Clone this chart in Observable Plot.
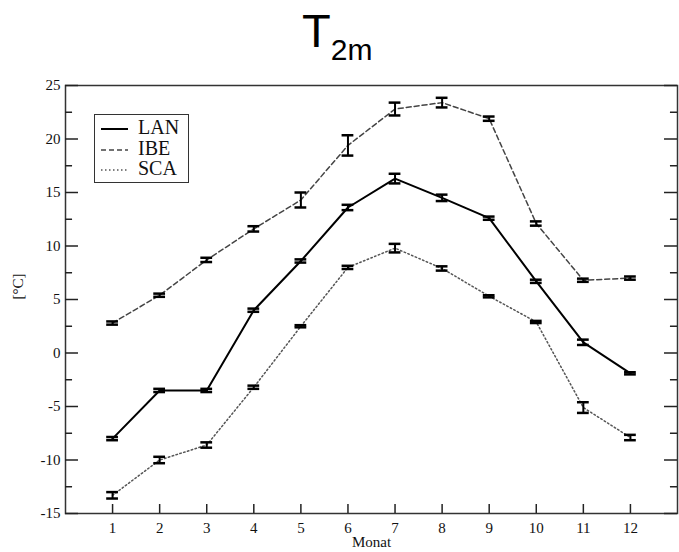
<!DOCTYPE html>
<html>
<head>
<meta charset="utf-8">
<script src="https://cdn.jsdelivr.net/npm/d3@7"></script>
<script src="https://cdn.jsdelivr.net/npm/@observablehq/plot@0.6"></script>
<style>
  body { margin: 0; background: #fff; }
  #wrap { position: relative; width: 679px; height: 552px; }
  #legend { position: absolute; left: 94px; top: 114px; width: 93px; height: 67px;
    border: 1.5px solid #333; background: #fff; font-family: "Liberation Serif", "DejaVu Serif", serif; font-size: 20px; }
  #legend .row { position: absolute; left: 0; height: 20px; width: 93px; }
  #legend svg { position: absolute; left: 5px; top: 0; }
  #legend span { position: absolute; left: 43px; top: -2px; line-height: 20px; color: #111; }
</style>
</head>
<body>
<div id="wrap">
  <svg id="title" width="679" height="70" style="position:absolute;left:0;top:0">
    <text x="302" y="47" font-family="Liberation Sans, Arial, sans-serif" font-size="47" fill="#000">T<tspan font-size="30" dy="13">2m</tspan></text>
  </svg>
  <div id="chart" style="position:absolute;left:0;top:70px"></div>
  <div id="legend"></div>
</div>
<script>
const months = [1, 2, 3, 4, 5, 6, 7, 8, 9, 10, 11, 12];
const lan    = [-8.0, -3.5, -3.5, 4.0, 8.6, 13.6, 16.3, 14.5, 12.6, 6.7, 1.0, -1.9];
const lanErr = [0.15, 0.15, 0.15, 0.15, 0.15, 0.25, 0.45, 0.3, 0.15, 0.15, 0.25, 0.1];
const ibe    = [2.8, 5.4, 8.7, 11.6, 14.3, 19.4, 22.8, 23.4, 21.9, 12.1, 6.8, 7.0];
const ibeErr = [0.15, 0.15, 0.2, 0.25, 0.7, 0.95, 0.6, 0.45, 0.2, 0.2, 0.15, 0.15];
const sca    = [-13.3, -10.0, -8.6, -3.2, 2.5, 8.0, 9.8, 7.9, 5.3, 2.9, -5.1, -7.9];
const scaErr = [0.3, 0.3, 0.25, 0.15, 0.1, 0.15, 0.4, 0.2, 0.1, 0.1, 0.5, 0.25];
const seriesNames = ["LAN", "IBE", "SCA"];
const yMajor = [-15, -10, -5, 0, 5, 10, 15, 20, 25];
const yMinor = [-12.5, -7.5, -2.5, 2.5, 7.5, 12.5, 17.5, 22.5];
const xLabel = "Monat";
const yLabel = "[°C]";

const styles = {
  LAN: {stroke: "#000", strokeWidth: 2, strokeDasharray: null},
  IBE: {stroke: "#444", strokeWidth: 1.5, strokeDasharray: "5,3"},
  SCA: {stroke: "#555", strokeWidth: 1.5, strokeDasharray: "1.5,2.5"}
};
const vals = {LAN: lan, IBE: ibe, SCA: sca};
const errs = {LAN: lanErr, IBE: ibeErr, SCA: scaErr};
const data = seriesNames.flatMap(s => months.map((m, i) => ({series: s, month: m, v: vals[s][i], e: errs[s][i]})));

const serif = "Liberation Serif, DejaVu Serif, serif";
const majLen = 0.276, minLen = 0.15, capHalf = 0.125;
const xMin = 0, xMax = 13;

const marks = [
  Plot.frame({stroke: "#333", strokeWidth: 1.5}),
  Plot.ruleY(yMajor, {y: d => d, x1: xMin, x2: xMin + majLen, stroke: "#222", strokeWidth: 1.5}),
  Plot.ruleY(yMinor, {y: d => d, x1: xMin, x2: xMin + minLen, stroke: "#222", strokeWidth: 1.5}),
  Plot.ruleY(yMajor, {y: d => d, x1: xMax - majLen, x2: xMax, stroke: "#222", strokeWidth: 1.5}),
  Plot.ruleY(yMinor, {y: d => d, x1: xMax - minLen, x2: xMax, stroke: "#222", strokeWidth: 1.5}),
  Plot.ruleX(months, {x: d => d, y1: -15, y2: -15 + 0.84, stroke: "#222", strokeWidth: 1.5}),
  Plot.axisY(yMajor, {anchor: "left", label: null, tickSize: 0, tickPadding: 5, tickFormat: d => String(d), fontFamily: serif, fontSize: 15, fill: "#111"}),
  Plot.axisX(months, {anchor: "bottom", label: null, tickSize: 0, tickPadding: 9, tickFormat: d => String(d), fontFamily: serif, fontSize: 15, fill: "#111"}),
  Plot.text([xLabel], {frameAnchor: "bottom", dy: 33, fontFamily: serif, fontSize: 15, fill: "#111"}),
  Plot.text([yLabel], {frameAnchor: "left", dx: -47, rotate: -90, fontFamily: serif, fontSize: 15, fill: "#111"}),
];
for (const s of seriesNames) {
  const st = styles[s];
  marks.push(Plot.line(data.filter(d => d.series === s), {x: "month", y: "v", stroke: st.stroke, strokeWidth: st.strokeWidth, strokeDasharray: st.strokeDasharray}));
}
marks.push(
  Plot.ruleX(data, {x: "month", y1: d => d.v - d.e, y2: d => d.v + d.e, stroke: "#000", strokeWidth: 2}),
  Plot.ruleY(data, {y: d => d.v - d.e, x1: d => d.month - capHalf, x2: d => d.month + capHalf, stroke: "#000", strokeWidth: 2.5}),
  Plot.ruleY(data, {y: d => d.v + d.e, x1: d => d.month - capHalf, x2: d => d.month + capHalf, stroke: "#000", strokeWidth: 2.5})
);

const chart = Plot.plot({
  width: 679,
  height: 482,
  marginLeft: 65,
  marginRight: 2,
  marginTop: 15,
  marginBottom: 39,
  x: {domain: [xMin, xMax], axis: null},
  y: {domain: [-15, 25], axis: null},
  style: {background: "transparent", overflow: "visible"},
  marks
});
document.getElementById("chart").appendChild(chart);

const legend = document.getElementById("legend");
seriesNames.forEach((s, i) => {
  const st = styles[s];
  const row = document.createElement("div");
  row.className = "row";
  row.style.top = (4 + i * 20.5) + "px";
  row.innerHTML = `<svg width="30" height="20"><line x1="1" x2="28" y1="10" y2="10" stroke="${st.stroke}" stroke-width="${st.strokeWidth}" ${st.strokeDasharray ? `stroke-dasharray="${st.strokeDasharray}"` : ""}/></svg><span>${s}</span>`;
  legend.appendChild(row);
});
</script>
</body>
</html>
